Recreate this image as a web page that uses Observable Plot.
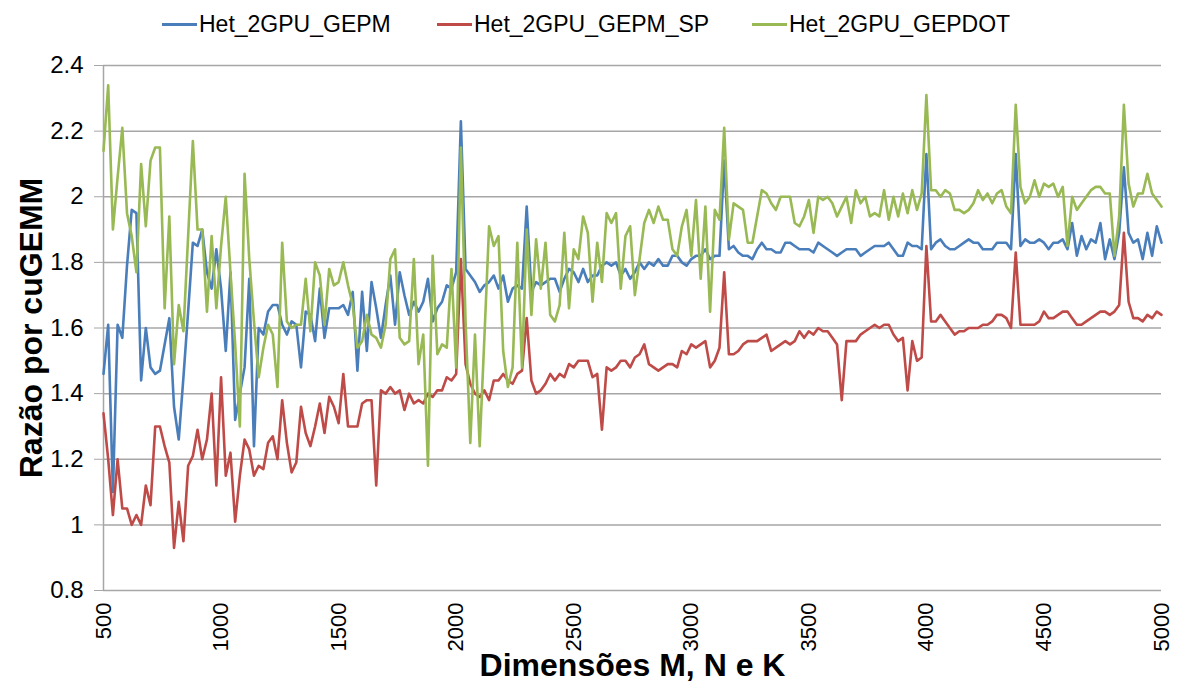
<!DOCTYPE html>
<html>
<head>
<meta charset="utf-8">
<script src="https://cdn.jsdelivr.net/npm/d3@7"></script>
<script src="https://cdn.jsdelivr.net/npm/@observablehq/plot@0.6"></script>
<style>
  html, body { margin: 0; padding: 0; background: #fff; }
  body { width: 1178px; height: 695px; overflow: hidden; font-family: "Liberation Sans", Arial, sans-serif; }
  #legend { position: relative; height: 48px; width: 1178px; }
  .item { position: absolute; top: 0; height: 48px; display: flex; align-items: center; font-size: 23px; color: #000; white-space: nowrap; }
  .swatch { width: 35px; height: 0; border-top: 3px solid; margin-right: 2px; }
</style>
</head>
<body>
<div id="legend"></div>
<div id="chart"></div>
<script>
// ---- Data ----
const seriesNames = ["Het_2GPU_GEPM", "Het_2GPU_GEPM_SP", "Het_2GPU_GEPDOT"];
const seriesColors = ["#4a7ebb", "#be4b48", "#98b954"];

// Problem dimension M = N = K, from 500 to 5000 in steps of 20
const dims = d3.range(500, 5001, 20);

const gepm = [
  1.46, 1.61, 1.10, 1.61, 1.57, 1.79, 1.96, 1.95, 1.44, 1.60,
  1.48, 1.46, 1.47, 1.55, 1.63, 1.36, 1.26, 1.45, 1.65, 1.86,
  1.85, 1.90, 1.77, 1.72, 1.84, 1.72, 1.53, 1.77, 1.32, 1.40,
  1.48, 1.75, 1.24, 1.60, 1.58, 1.65, 1.67, 1.67, 1.61, 1.58,
  1.62, 1.61, 1.48, 1.65, 1.64, 1.56, 1.72, 1.57, 1.66, 1.66,
  1.66, 1.67, 1.64, 1.71, 1.47, 1.71, 1.53, 1.74, 1.66, 1.57,
  1.67, 1.76, 1.61, 1.77, 1.70, 1.64, 1.68, 1.65, 1.68, 1.75,
  1.62, 1.66, 1.68, 1.73, 1.72, 1.77, 2.23, 1.78, 1.76, 1.74,
  1.71, 1.73, 1.74, 1.76, 1.72, 1.76, 1.68, 1.72, 1.73, 1.72,
  1.97, 1.71, 1.74, 1.73, 1.74, 1.75, 1.75, 1.71, 1.75, 1.78,
  1.77, 1.74, 1.78, 1.74, 1.76, 1.76, 1.79, 1.80, 1.79, 1.80,
  1.76, 1.78, 1.75, 1.77, 1.80, 1.78, 1.80, 1.79, 1.81, 1.79,
  1.79, 1.82, 1.82, 1.80, 1.79, 1.81, 1.82, 1.82, 1.84, 1.81,
  1.82, 1.82, 2.11, 1.84, 1.85, 1.83, 1.82, 1.82, 1.81, 1.84,
  1.86, 1.84, 1.84, 1.83, 1.83, 1.86, 1.86, 1.85, 1.84, 1.84,
  1.84, 1.83, 1.86, 1.85, 1.84, 1.83, 1.82, 1.83, 1.84, 1.84,
  1.84, 1.82, 1.83, 1.84, 1.85, 1.85, 1.85, 1.86, 1.84, 1.82,
  1.82, 1.86, 1.85, 1.85, 1.84, 2.13, 1.84, 1.86, 1.87, 1.85,
  1.84, 1.84, 1.85, 1.86, 1.87, 1.86, 1.86, 1.84, 1.84, 1.84,
  1.86, 1.86, 1.86, 1.84, 2.13, 1.85, 1.87, 1.86, 1.86, 1.87,
  1.86, 1.84, 1.86, 1.86, 1.87, 1.84, 1.92, 1.82, 1.88, 1.84,
  1.87, 1.86, 1.92, 1.81, 1.87, 1.81, 1.89, 2.09, 1.89, 1.86,
  1.87, 1.81, 1.89, 1.82, 1.91, 1.86
];

const gepmSP = [
  1.34, 1.20, 1.03, 1.20, 1.05, 1.05, 1.00, 1.03, 1.00, 1.12,
  1.06, 1.30, 1.30, 1.24, 1.19, 0.93, 1.07, 0.95, 1.18, 1.21,
  1.29, 1.20, 1.26, 1.40, 1.12, 1.45, 1.15, 1.22, 1.01, 1.15,
  1.26, 1.23, 1.15, 1.18, 1.17, 1.25, 1.27, 1.20, 1.38, 1.25,
  1.16, 1.19, 1.36, 1.28, 1.24, 1.30, 1.37, 1.28, 1.39, 1.36,
  1.31, 1.46, 1.30, 1.30, 1.30, 1.37, 1.38, 1.38, 1.12, 1.41,
  1.40, 1.42, 1.40, 1.41, 1.35, 1.40, 1.37, 1.38, 1.37, 1.40,
  1.39, 1.41, 1.41, 1.45, 1.44, 1.46, 1.81, 1.49, 1.43, 1.40,
  1.39, 1.41, 1.38, 1.44, 1.44, 1.46, 1.44, 1.43, 1.46, 1.47,
  1.63, 1.44, 1.40, 1.41, 1.43, 1.46, 1.44, 1.46, 1.45, 1.49,
  1.48, 1.50, 1.50, 1.50, 1.45, 1.46, 1.29, 1.48, 1.47, 1.48,
  1.50, 1.50, 1.48, 1.51, 1.52, 1.55, 1.49, 1.48, 1.47, 1.48,
  1.49, 1.49, 1.48, 1.53, 1.52, 1.55, 1.54, 1.55, 1.56, 1.48,
  1.50, 1.54, 1.77, 1.52, 1.52, 1.53, 1.55, 1.56, 1.56, 1.56,
  1.57, 1.58, 1.53, 1.54, 1.55, 1.56, 1.55, 1.56, 1.59, 1.57,
  1.59, 1.58, 1.60, 1.59, 1.59, 1.57, 1.55, 1.38, 1.56, 1.56,
  1.56, 1.58, 1.59, 1.60, 1.61, 1.60, 1.61, 1.61, 1.58, 1.56,
  1.57, 1.41, 1.56, 1.50, 1.51, 1.85, 1.62, 1.62, 1.64, 1.62,
  1.60, 1.58, 1.59, 1.59, 1.60, 1.60, 1.60, 1.61, 1.61, 1.62,
  1.64, 1.64, 1.63, 1.60, 1.83, 1.61, 1.61, 1.61, 1.61, 1.62,
  1.65, 1.63, 1.63, 1.64, 1.65, 1.65, 1.63, 1.61, 1.61, 1.62,
  1.63, 1.64, 1.65, 1.65, 1.64, 1.65, 1.67, 1.89, 1.68, 1.63,
  1.63, 1.62, 1.64, 1.63, 1.65, 1.64
];

const gepdot = [
  2.14, 2.34, 1.90, 2.06, 2.21, 1.95, 1.88, 1.77, 2.10, 1.91,
  2.11, 2.15, 2.15, 1.66, 1.94, 1.49, 1.67, 1.59, 1.88, 2.17,
  1.90, 1.90, 1.65, 1.88, 1.66, 1.85, 2.00, 1.77, 1.55, 1.30,
  2.07, 1.81, 1.62, 1.45, 1.54, 1.61, 1.58, 1.42, 1.86, 1.62,
  1.60, 1.61, 1.61, 1.75, 1.59, 1.80, 1.76, 1.61, 1.78, 1.73,
  1.74, 1.80, 1.73, 1.67, 1.54, 1.56, 1.64, 1.58, 1.57, 1.54,
  1.61, 1.81, 1.84, 1.57, 1.55, 1.56, 1.81, 1.49, 1.58, 1.18,
  1.82, 1.52, 1.55, 1.54, 1.78, 1.48, 2.15, 1.62, 1.25, 1.58,
  1.24, 1.57, 1.91, 1.85, 1.88, 1.53, 1.42, 1.48, 1.86, 1.48,
  1.90, 1.64, 1.87, 1.72, 1.86, 1.64, 1.62, 1.67, 1.89, 1.66,
  1.84, 1.81, 1.94, 1.89, 1.68, 1.86, 1.74, 1.95, 1.92, 1.95,
  1.72, 1.88, 1.91, 1.70, 1.81, 1.92, 1.96, 1.92, 1.97, 1.93,
  1.93, 1.84, 1.82, 1.91, 1.96, 1.82, 1.99, 1.75, 1.97, 1.65,
  1.96, 1.93, 2.21, 1.87, 1.98, 1.97, 1.96, 1.86, 1.86, 1.94,
  2.02, 2.01, 1.98, 1.96, 2.00, 2.00, 2.00, 1.92, 1.91, 1.94,
  1.99, 1.89, 2.00, 1.99, 2.00, 1.98, 1.94, 1.97, 2.00, 1.92,
  2.02, 1.98, 2.00, 1.94, 1.95, 1.94, 2.02, 1.93, 2.00, 1.94,
  2.01, 1.95, 2.02, 1.96, 2.01, 2.31, 2.02, 2.02, 2.00, 2.02,
  2.01, 1.96, 1.96, 1.95, 1.96, 1.98, 2.02, 1.99, 2.01, 1.98,
  2.01, 2.02, 1.97, 1.95, 2.28, 2.03, 1.98, 2.00, 2.05, 2.00,
  2.04, 2.03, 2.04, 2.00, 2.03, 1.85, 2.00, 1.96, 1.98, 2.00,
  2.02, 2.03, 2.03, 2.01, 2.01, 1.82, 1.94, 2.28, 2.04, 1.97,
  2.01, 2.01, 2.07, 2.01, 1.99, 1.97
];

const yTicks = [0.8, 1.0, 1.2, 1.4, 1.6, 1.8, 2.0, 2.2, 2.4];
const xTicks = [500, 1000, 1500, 2000, 2500, 3000, 3500, 4000, 4500, 5000];
const yTitle = "Razão por cuGEMM";
const xTitle = "Dimensões M, N e K";

// ---- Build table ----
const seriesValues = [gepm, gepmSP, gepdot];
const rows = [];
seriesValues.forEach((vals, s) => {
  vals.forEach((v, i) => rows.push({ dim: dims[i], value: v, series: seriesNames[s] }));
});

// ---- Legend ----
const legendLeft = [162, 437, 752];
const legend = document.getElementById("legend");
seriesNames.forEach((n, i) => {
  const it = document.createElement("div");
  it.className = "item";
  it.style.left = legendLeft[i] + "px";
  const sw = document.createElement("span");
  sw.className = "swatch";
  sw.style.borderTopColor = seriesColors[i];
  const tx = document.createElement("span");
  tx.textContent = n;
  it.appendChild(sw); it.appendChild(tx);
  legend.appendChild(it);
});

// ---- Chart ----
const fmtY = d => String(+d.toFixed(1));
const fmtX = d => String(d);
const gridColor = "#a6a6a6";

const chart = Plot.plot({
  width: 1178,
  height: 647,
  marginTop: 17,
  marginBottom: 105,
  marginLeft: 103,
  marginRight: 17,
  style: { fontFamily: "'Liberation Sans', Arial, sans-serif", background: "#fff", color: "#000" },
  x: { domain: [500, 5000] },
  y: { domain: [0.8, 2.4] },
  color: { domain: seriesNames, range: seriesColors },
  marks: [
    Plot.gridY(yTicks, { stroke: gridColor, strokeOpacity: 1, strokeWidth: 1.5 }),
    Plot.ruleX([500], { stroke: gridColor, strokeWidth: 1.5 }),
    Plot.axisY(yTicks, {
      tickSize: 9, tickPadding: 11, stroke: gridColor, strokeOpacity: 1,
      tickFormat: fmtY, fontSize: 24, label: null
    }),
    Plot.axisX(xTicks, {
      tickSize: 0, tickPadding: 12, tickRotate: -90, tickFormat: fmtX, fontSize: 22, label: null
    }),
    Plot.line(rows, { x: "dim", y: "value", z: "series", stroke: "series", strokeWidth: 2.6, strokeLinejoin: "round" }),
    Plot.text([yTitle], {
      frameAnchor: "left", textAnchor: "middle", lineAnchor: "middle", rotate: -90, dx: -72,
      fontSize: 32, fontWeight: "bold", fill: "#000"
    }),
    Plot.text([xTitle], {
      frameAnchor: "bottom", lineAnchor: "middle", dy: 75, fontSize: 32, fontWeight: "bold", fill: "#000"
    })
  ]
});
document.getElementById("chart").appendChild(chart);
</script>
</body>
</html>
